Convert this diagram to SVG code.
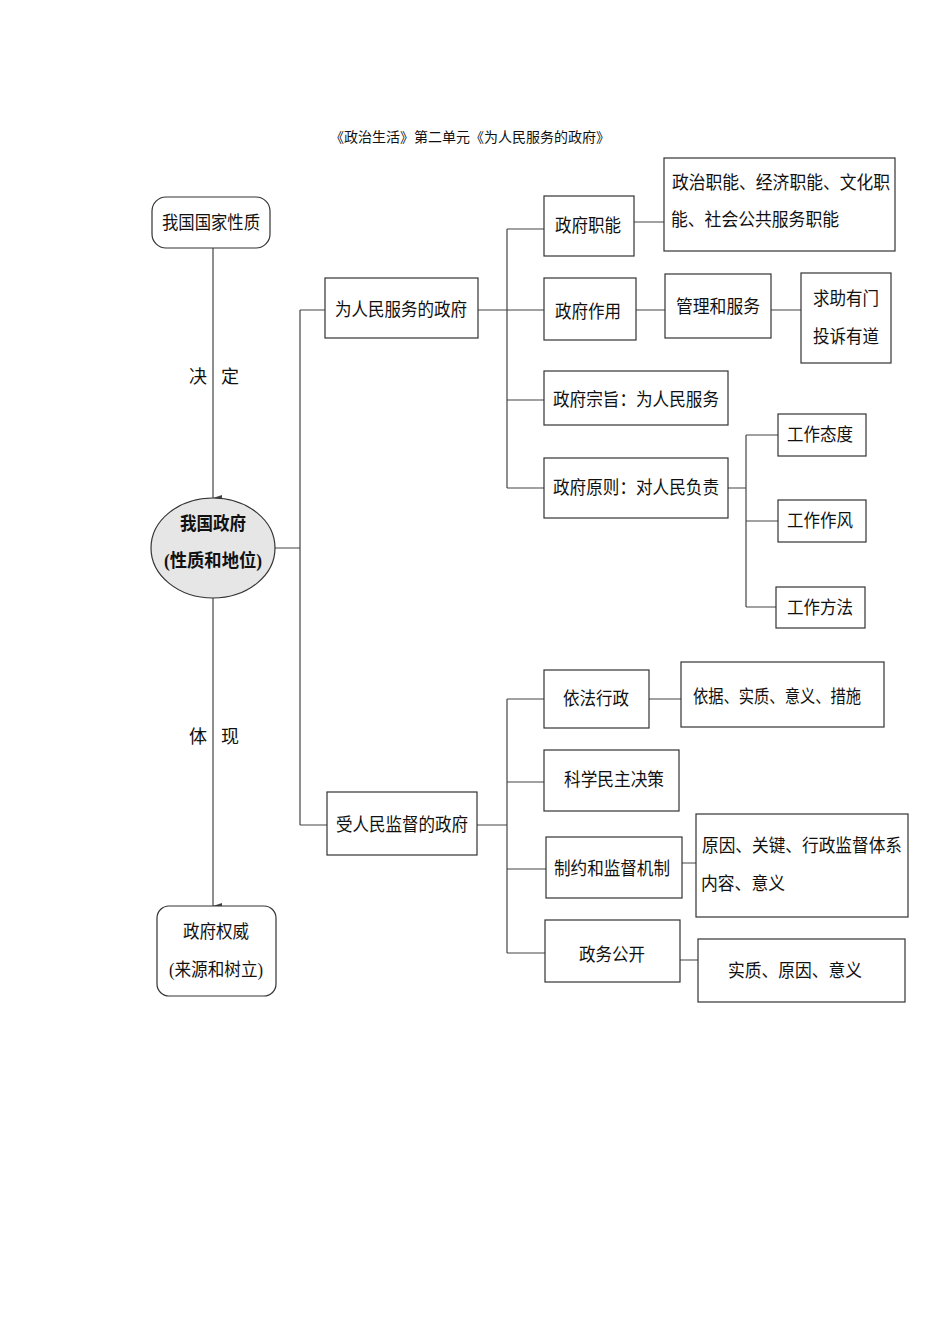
<svg xmlns="http://www.w3.org/2000/svg" width="950" height="1344" viewBox="0 0 950 1344">
<defs>
<style>
.b{fill:#fff;stroke:#333;stroke-width:1.2}
.t{font-family:"Liberation Serif","Noto Sans CJK SC",serif;font-size:18px;fill:#111;text-anchor:middle;dominant-baseline:central}
.l{fill:none;stroke:#444;stroke-width:1.2}
</style>
<marker id="a" markerWidth="10" markerHeight="10" refX="4" refY="9" orient="auto-start-reverse" markerUnits="userSpaceOnUse"><path d="M1,0 L4,9 L7,0 Z" fill="#444"/></marker>
</defs>
<rect width="950" height="1344" fill="#fff"/>
<text x="470" y="137" class="t" style="font-size:14px">《政治生活》第二单元《为人民服务的政府》</text>
<g id="connectors">
<path class="l" d="M213,248 V498" marker-end="url(#a)"/>
<path class="l" d="M213,598 V906" marker-end="url(#a)"/>
<path class="l" d="M275,548 H300 M300,310 V825 M300,310 H325 M300,825 H327"/>
<path class="l" d="M478,310 H544 M507,229 V488 M507,229 H544 M507,400 H544 M507,488 H544"/>
<path class="l" d="M634,222 H664 M636,310 H665 M771,310 H801"/>
<path class="l" d="M728,488 H746 M746,435 V607 M746,435 H778 M746,521 H778 M746,607 H776"/>
<path class="l" d="M477,825 H507 M507,699 V953 M507,699 H544 M507,782 H544 M507,869 H546 M507,953 H545"/>
<path class="l" d="M649,699 H681 M682,863 H696 M680,960 H698"/>
</g>
<text x="198" y="377" class="t">决</text><text x="230" y="377" class="t">定</text>
<text x="198" y="737" class="t">体</text><text x="230" y="737" class="t">现</text>
<g id="n1"><rect class="b" x="152" y="197" width="118" height="51" rx="14"/><text x="211" y="223" class="t" textLength="98" lengthAdjust="spacingAndGlyphs">我国国家性质</text></g>
<g id="n2"><ellipse cx="213" cy="548" rx="62" ry="50" fill="#e6e6e6" stroke="#333" stroke-width="1.2"/><text x="213" y="524" class="t" style="font-weight:bold" textLength="66" lengthAdjust="spacingAndGlyphs">我国政府</text><text x="213" y="561" class="t" style="font-weight:bold" textLength="98" lengthAdjust="spacingAndGlyphs">(性质和地位)</text></g>
<g id="n3"><rect class="b" x="157" y="906" width="119" height="90" rx="12"/><text x="216" y="932" class="t" textLength="66" lengthAdjust="spacingAndGlyphs">政府权威</text><text x="216" y="970" class="t" textLength="94" lengthAdjust="spacingAndGlyphs">(来源和树立)</text></g>
<g id="n4"><rect class="b" x="325" y="278" width="153" height="60"/><text x="401" y="310" class="t" textLength="132" lengthAdjust="spacingAndGlyphs">为人民服务的政府</text></g>
<g id="n5"><rect class="b" x="327" y="792" width="150" height="63"/><text x="402" y="825" class="t" textLength="132" lengthAdjust="spacingAndGlyphs">受人民监督的政府</text></g>
<g id="n6"><rect class="b" x="544" y="196" width="90" height="60"/><text x="588" y="226" class="t" textLength="66" lengthAdjust="spacingAndGlyphs">政府职能</text></g>
<g id="n7"><rect class="b" x="544" y="278" width="92" height="62"/><text x="588" y="312" class="t" textLength="66" lengthAdjust="spacingAndGlyphs">政府作用</text></g>
<g id="n8"><rect class="b" x="544" y="371" width="184" height="54"/><text x="636" y="400" class="t" textLength="166" lengthAdjust="spacingAndGlyphs">政府宗旨：为人民服务</text></g>
<g id="n9"><rect class="b" x="544" y="458" width="184" height="60"/><text x="636" y="488" class="t" textLength="166" lengthAdjust="spacingAndGlyphs">政府原则：对人民负责</text></g>
<g id="n10"><rect class="b" x="664" y="158" width="231" height="93"/><text x="781" y="183" class="t" textLength="218" lengthAdjust="spacingAndGlyphs">政治职能、经济职能、文化职</text><text x="755" y="220" class="t" textLength="168" lengthAdjust="spacingAndGlyphs">能、社会公共服务职能</text></g>
<g id="n11"><rect class="b" x="665" y="274" width="106" height="64"/><text x="718" y="307" class="t" textLength="84" lengthAdjust="spacingAndGlyphs">管理和服务</text></g>
<g id="n12"><rect class="b" x="801" y="273" width="90" height="90"/><text x="846" y="299" class="t" textLength="66" lengthAdjust="spacingAndGlyphs">求助有门</text><text x="846" y="337" class="t" textLength="66" lengthAdjust="spacingAndGlyphs">投诉有道</text></g>
<g id="n13"><rect class="b" x="778" y="414" width="88" height="42"/><text x="820" y="435" class="t" textLength="66" lengthAdjust="spacingAndGlyphs">工作态度</text></g>
<g id="n14"><rect class="b" x="778" y="500" width="88" height="42"/><text x="820" y="521" class="t" textLength="66" lengthAdjust="spacingAndGlyphs">工作作风</text></g>
<g id="n15"><rect class="b" x="776" y="587" width="89" height="41"/><text x="820" y="608" class="t" textLength="66" lengthAdjust="spacingAndGlyphs">工作方法</text></g>
<g id="n16"><rect class="b" x="544" y="670" width="105" height="58"/><text x="596" y="699" class="t" textLength="66" lengthAdjust="spacingAndGlyphs">依法行政</text></g>
<g id="n17"><rect class="b" x="681" y="662" width="203" height="65"/><text x="777" y="697" class="t" textLength="168" lengthAdjust="spacingAndGlyphs">依据、实质、意义、措施</text></g>
<g id="n18"><rect class="b" x="544" y="750" width="135" height="61"/><text x="614" y="780" class="t" textLength="100" lengthAdjust="spacingAndGlyphs">科学民主决策</text></g>
<g id="n19"><rect class="b" x="546" y="837" width="136" height="61"/><text x="612" y="869" class="t" textLength="116" lengthAdjust="spacingAndGlyphs">制约和监督机制</text></g>
<g id="n20"><rect class="b" x="696" y="814" width="212" height="103"/><text x="802" y="846" class="t" textLength="200" lengthAdjust="spacingAndGlyphs">原因、关键、行政监督体系</text><text x="743" y="884" class="t" textLength="84" lengthAdjust="spacingAndGlyphs">内容、意义</text></g>
<g id="n21"><rect class="b" x="545" y="920" width="135" height="62"/><text x="612" y="955" class="t" textLength="66" lengthAdjust="spacingAndGlyphs">政务公开</text></g>
<g id="n22"><rect class="b" x="698" y="939" width="207" height="63"/><text x="795" y="971" class="t" textLength="134" lengthAdjust="spacingAndGlyphs">实质、原因、意义</text></g>
</svg>
